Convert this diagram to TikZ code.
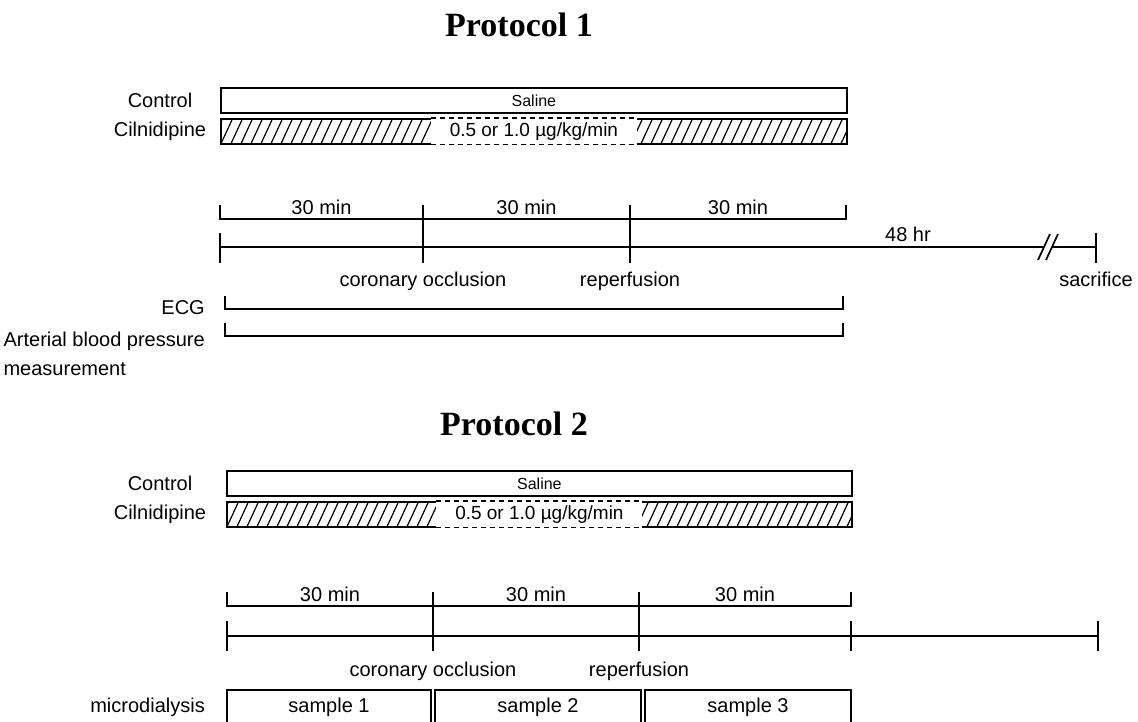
\documentclass[tikz,border=0pt]{standalone}
\usepackage{fontspec}
\setmainfont{Liberation Sans}
\newfontfamily\titlefont{Liberation Serif}
\usetikzlibrary{positioning,calc}
\tikzset{
  bar/.style={draw,line width=1.8pt,minimum width=626pt,minimum height=25pt,inner sep=0pt,anchor=north west,font=\fontsize{16}{19}\selectfont},
  hatched/.style={bar,path picture={\foreach \k in {-4,...,64}{\draw[line width=1.2pt] ([xshift=\k*10pt]path picture bounding box.south west) -- ++(12pt,26pt);}}},
  dose/.style={fill=white,minimum width=206pt,minimum height=29pt,inner sep=0pt,font=\fontsize{19}{22}\selectfont},
  dashedge/.style={line width=1.3pt,dash pattern=on 5pt off 4pt},
  title/.style={font=\titlefont\bfseries\fontsize{34}{40}\selectfont,anchor=base,inner sep=0pt},
  lbl/.style={font=\fontsize{20}{24}\selectfont,inner sep=0pt},
  tline/.style={line width=1.7pt}}
\begin{document}
\begin{tikzpicture}[x=1pt,y=-1pt]
\useasboundingbox (0,0) rectangle (1138,722);
% ---------- protocol 1 ----------
\node[title] (title1) at (519,37) {Protocol 1};
\node[bar] (sal1) at (220,87) {Saline};
\node[hatched] (cil1) at (220,118) {};
\node[dose] (dose1) at (cil1.center) {0.5 or 1.0 µg/kg/min};
\draw[dashedge] (dose1.west |- cil1.north) -- (dose1.east |- cil1.north);
\draw[dashedge] (dose1.west |- cil1.south) -- (dose1.east |- cil1.south);
\node[lbl] (ctl1) at (160,100) {Control};
\node[lbl] (cln1) at (160,131) {Cilnidipine};
% time bracket and time line
\coordinate (b0) at (220,219); \coordinate (b1) at (423,219);
\coordinate (b2) at (630,219); \coordinate (b3) at (846,219);
\coordinate (p0) at (220,247); \coordinate (p1) at (423,247);
\coordinate (p2) at (630,247); \coordinate (p4) at (1096,247);
\coordinate (brkA) at (1044,247); \coordinate (brkB) at (1052,247);
\draw[tline] ([yshift=14pt]b0) -- (b0) -- (b3) -- ([yshift=14pt]b3);
\draw[tline] ([yshift=14pt]b1) -- ([yshift=-16pt]p1);
\draw[tline] ([yshift=14pt]b2) -- ([yshift=-16pt]p2);
\draw[tline] (p0) -- (brkA); \draw[tline] (brkB) -- (p4);
\draw[tline] ([yshift=14pt]p0) -- ([yshift=-16pt]p0);
\draw[tline] ([yshift=14pt]p4) -- ([yshift=-16pt]p4);
\draw[tline] ($(brkA)+(-6,13)$) -- ($(brkA)+(6,-13)$);
\draw[tline] ($(brkB)+(-6,13)$) -- ($(brkB)+(6,-13)$);
\node[lbl,above=4pt] (m1a) at ($(b0)!.5!(b1)$) {30 min};
\node[lbl,above=4pt] (m1b) at ($(b1)!.5!(b2)$) {30 min};
\node[lbl,above=4pt] (m1c) at ($(b2)!.5!(b3)$) {30 min};
\node[lbl,above=5pt] (hr48) at (908,247) {48 hr};
\node[lbl,anchor=base] (occ1) at ($(p1)+(0,40)$) {coronary occlusion};
\node[lbl,anchor=base] (rep1) at ($(p2)+(0,40)$) {reperfusion};
\node[lbl,anchor=base] (sac) at ($(p4)+(0,40)$) {sacrifice};
% recordings
\coordinate (e0) at (225,309); \coordinate (e1) at (843,309);
\coordinate (a0) at (225,336); \coordinate (a1) at (843,336);
\draw[tline] ([yshift=13pt]e0) -- (e0) -- (e1) -- ([yshift=13pt]e1);
\draw[tline] ([yshift=13pt]a0) -- (a0) -- (a1) -- ([yshift=13pt]a1);
\node[lbl,anchor=base east] (ecg) at (205,314) {ECG};
\node[lbl,anchor=base east] (abp) at (205,346) {Arterial blood pressure};
\node[lbl,anchor=base west] (abpm) at ($(abp.base west)+(0,29)$) {measurement};
% ---------- protocol 2 ----------
\node[title] (title2) at (514,435) {Protocol 2};
\node[bar,minimum width=625pt] (sal2) at (226,470) {Saline};
\node[hatched,minimum width=625pt] (cil2) at (226,501) {};
\node[dose] (dose2) at (cil2.center) {0.5 or 1.0 µg/kg/min};
\draw[dashedge] (dose2.west |- cil2.north) -- (dose2.east |- cil2.north);
\draw[dashedge] (dose2.west |- cil2.south) -- (dose2.east |- cil2.south);
\node[lbl] (ctl2) at (160,483) {Control};
\node[lbl] (cln2) at (160,514) {Cilnidipine};
% time bracket and time line
\coordinate (c0) at (227,606); \coordinate (c1) at (433,606);
\coordinate (c2) at (639,606); \coordinate (c3) at (851,606);
\coordinate (q0) at (227,636); \coordinate (q1) at (433,636);
\coordinate (q2) at (639,636); \coordinate (q3) at (851,636);
\coordinate (q4) at (1098,636);
\draw[tline] ([yshift=14pt]c0) -- (c0) -- (c3) -- ([yshift=14pt]c3);
\draw[tline] ([yshift=14pt]c1) -- ([yshift=-15pt]q1);
\draw[tline] ([yshift=14pt]c2) -- ([yshift=-15pt]q2);
\draw[tline] (q0) -- (q4);
\foreach \t in {q0,q3,q4}
  \draw[tline] ([yshift=15pt]\t) -- ([yshift=-15pt]\t);
\node[lbl,above=4pt] (m2a) at ($(c0)!.5!(c1)$) {30 min};
\node[lbl,above=4pt] (m2b) at ($(c1)!.5!(c2)$) {30 min};
\node[lbl,above=4pt] (m2c) at ($(c2)!.5!(c3)$) {30 min};
\node[lbl,anchor=base] (occ2) at ($(q1)+(0,40)$) {coronary occlusion};
\node[lbl,anchor=base] (rep2) at ($(q2)+(0,40)$) {reperfusion};
% microdialysis samples
\draw[tline] (227,724) |- (431,690) -- (431,724);
\draw[tline] (435,724) |- (641,690) -- (641,724);
\draw[tline] (645,724) |- (851,690) -- (851,724);
\node[lbl,anchor=base] (smp1) at (329,712) {sample 1};
\node[lbl,anchor=base] (smp2) at (538,712) {sample 2};
\node[lbl,anchor=base] (smp3) at (748,712) {sample 3};
\node[lbl,anchor=base east] (mdl) at (205,712) {microdialysis};
\end{tikzpicture}
\end{document}
